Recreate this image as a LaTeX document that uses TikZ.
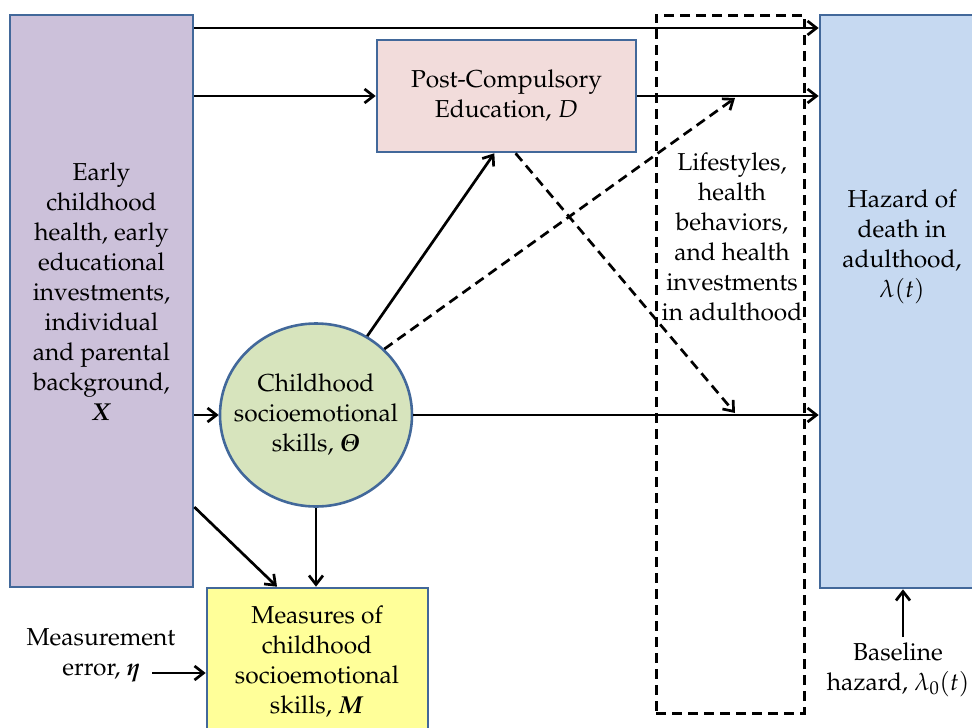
\documentclass[tikz,border=0pt]{standalone}
\usepackage[T1]{fontenc}
\usepackage{mathpazo}
\usepackage{amsmath}
\usepackage{bm}
\usetikzlibrary{arrows.meta,shapes.geometric}
\definecolor{bord}{HTML}{42689A}
\definecolor{purp}{HTML}{CCC1DA}
\definecolor{pinkf}{HTML}{F2DCDB}
\definecolor{bluef}{HTML}{C6D9F1}
\definecolor{greenf}{HTML}{D7E4BD}
\definecolor{yellf}{HTML}{FFFF99}
\begin{document}
\begin{tikzpicture}[x=1pt,y=-1pt,
  txt/.style={align=center, font=\fontsize{24.5}{30}\selectfont, inner sep=0pt},
  boxs/.style={draw=bord, line width=2.6pt, inner sep=0pt, rectangle},
  conn/.style={line width=2.7pt, -{Straight Barb[length=9pt,width=14pt]}},
  dconn/.style={conn, dash pattern=on 10pt off 6pt}]
\useasboundingbox (0,0) rectangle (972,728);
\clip (0,0) rectangle (972,728);
% boxes
\node[boxs, fill=purp, minimum width=183pt, minimum height=572pt] (X) at (101.5,301) {};
\node[txt] (Xt) at (101.5,292) {Early\\childhood\\health, early\\educational\\investments,\\individual\\and parental\\background,\\$\bm{X}$};
\node[boxs, txt, fill=pinkf, minimum width=259pt, minimum height=112pt] (P) at (506.5,96) {Post-Compulsory\\Education, $D$};
\node[boxs, fill=bluef, minimum width=180pt, minimum height=573pt] (H) at (910,301.5) {};
\node[txt] (Ht) at (902,247) {Hazard of\\death in\\adulthood,\\$\lambda(t)$};
\node[draw, line width=3pt, dash pattern=on 10pt off 6pt, minimum width=148pt, minimum height=698pt, inner sep=0pt] (L) at (730,364) {};
\node[txt] (Lt) at (732,237) {Lifestyles,\\health\\behaviors,\\and health\\investments\\in adulthood};
\node[ellipse, draw=bord, line width=2.6pt, fill=greenf, minimum width=192pt, minimum height=183pt, inner sep=0pt] (C) at (316,415) {};
\node[txt] (Ct) at (316,415) {Childhood\\socioemotional\\skills, $\bm{\varTheta}$};
\node[boxs, fill=yellf, minimum width=221pt, minimum height=172pt] (Y) at (317.5,674) {};
\node[txt] (Yt) at (317,662) {Measures of\\childhood\\socioemotional\\skills, $\bm{M}$};
\node[txt] (E) at (101,655) {Measurement\\error, $\bm{\eta}$};
\node[txt] (B) at (898,670) {Baseline\\hazard, $\lambda_0(t)$};
% connectors
\coordinate (t1) at (0,28);
\draw[conn] (X.east |- t1) -- (H.west |- t1);
\draw[conn] (X.east |- P.west) -- (P.west);
\draw[conn] (P.east) -- (H.west |- P.east);
\draw[conn] (X.east |- C.west) -- (C.west);
\draw[conn] (C.east) -- (H.west |- C.east);
\draw[conn] (C.57) -- (P.258);
\coordinate (d1) at (735,98);
\draw[dconn] (C.44) -- (d1);
\coordinate (d2) at (735,413);
\draw[dconn] (P.279) -- (d2);
\coordinate (t2) at (0,507);
\coordinate (t3) at (277,0);
\draw[conn] (X.east |- t2) -- (t3 |- Y.north);
\draw[conn] (C.south) -- (C.south |- Y.north);
\coordinate (e1) at (152,673);
\draw[conn] (e1) -- (Y.west |- e1);
\coordinate (b1) at (903,637);
\draw[conn] (b1) -- (H.south -| b1);
\end{tikzpicture}
\end{document}
